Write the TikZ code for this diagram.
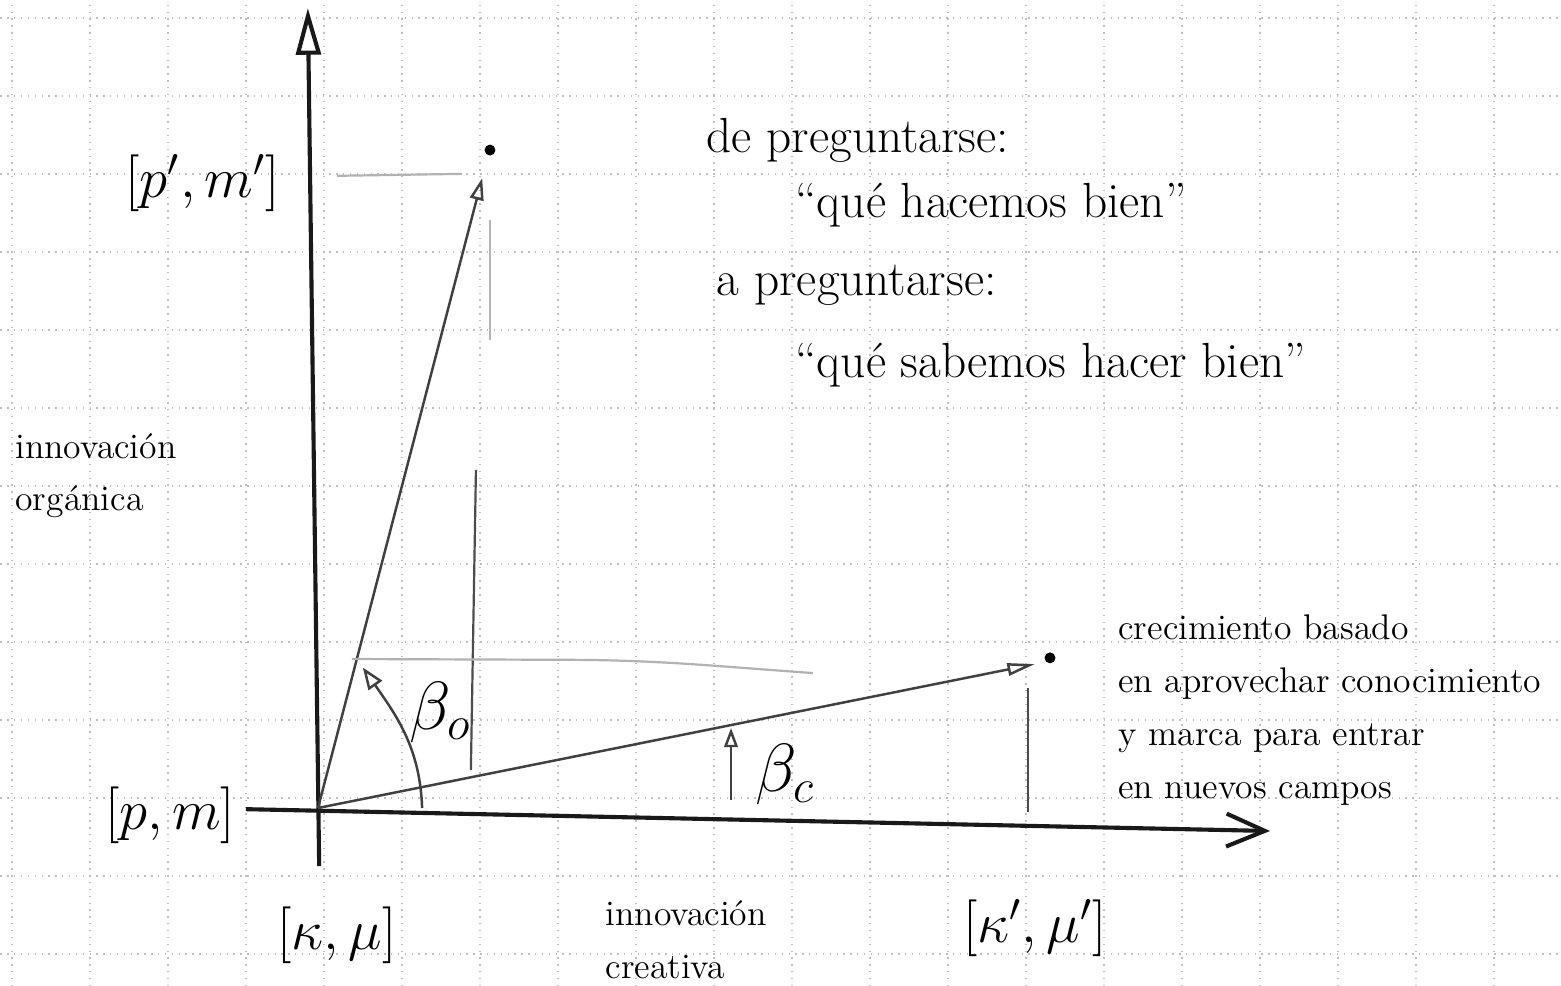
\documentclass[tikz,border=0pt]{standalone}
\usepackage{tikz}
\usetikzlibrary{arrows.meta,positioning}

\begin{document}
\begin{tikzpicture}[x=0.5cm,y=0.5cm,
  axis/.style={line width=1.5pt,black!90},
  vec/.style={line width=0.9pt,black!75},
  faint/.style={line width=0.8pt,black!30},
  guide/.style={line width=0.8pt,black!70},
  dotpt/.style={circle,fill=black,inner sep=0pt,minimum size=4pt},
  note/.style={font=\fontsize{18}{22}\selectfont,anchor=west,inner sep=0pt},
  side/.style={font=\fontsize{13}{19.3}\selectfont,align=left,anchor=west,inner sep=0pt},
  lbl/.style={font=\fontsize{21}{25}\selectfont,inner sep=0pt},
  ang/.style={font=\fontsize{24}{28}\selectfont,inner sep=0pt}]

\useasboundingbox (-8.154,-4.564) rectangle (31.872,20.718);
\clip (-8.154,-4.564) rectangle (31.872,20.718);
\fill[white] (-8.154,-4.564) rectangle (31.872,20.718);
% grid paper
\draw[black!25,dotted,line width=0.5pt,shift={(0.154,0.256)}] (-9,-5) grid (32,21);

% axes
\coordinate (O) at (0,0);
\coordinate (ytop) at (-0.26,20.51);
\coordinate (ybot) at (0.03,-1.49);
\coordinate (xleft) at (-1.85,-0.03);
\coordinate (xtip) at (24.41,-0.59);
\draw[axis,-{Triangle[open,length=17pt,width=9pt]}] (ybot) -- (ytop);
\draw[axis,-{Straight Barb[length=14pt,width=12pt]}] (xleft) -- (xtip);

% points and vectors
\node[dotpt] (j) at (4.41,16.87) {};
\node[dotpt] (c) at (18.77,3.85) {};
\coordinate (jtip) at (4.21,16.15);
\coordinate (ctip) at (18.38,3.69);
\draw[vec,-{Triangle[open,length=8pt,width=5pt]}] (O) -- (jtip);
\draw[vec,-{Triangle[open,length=10pt,width=4.5pt]}] (O) -- (ctip);

% guide lines
\draw[faint] (0.49,16.21) -- (3.69,16.26);
\draw[faint] (4.41,15.08) -- (4.41,12.0);
\draw[guide] (4.05,8.67) -- (3.92,0.97);
\draw[faint] (0.87,3.82) -- (6.21,3.8) to[out=0,in=176] (12.69,3.46);
\draw[guide] (18.21,3.08) -- (18.21,-0.1);

% angles
\coordinate (bo0) at (2.67,0);
\coordinate (bo1) at (1.15,3.6);
\draw[vec,-{Triangle[open,length=8pt,width=6pt]}] (bo0) to[out=92,in=-55] (bo1);
\coordinate (bc0) at (10.59,0.21);
\coordinate (bc1) at (10.59,2.05);
\draw[vec,-{Triangle[open,length=7pt,width=5pt]}] (bc0) -- (bc1);
\node[ang] (bo) at (3.13,2.46) {$\beta_o$};
\node[ang] (bc) at (11.97,0.85) {$\beta_c$};

% coordinates labels
\node[lbl] (pm1) at (-2.95,16.03) {$\bigl[p',m'\bigr]$};
\node[lbl] (pm)  at (-3.79,-0.18) {$\bigl[p,m\bigr]$};
\node[lbl] (km)  at (0.49,-3.26)  {$\bigl[\kappa,\mu\bigr]$};
\node[lbl] (km1) at (18.38,-3.08) {$\bigl[\kappa',\mu'\bigr]$};

% texts
\node[side] (org)  at (-7.77,8.52) {innovación\\orgánica};
\node[side] (cre)  at (7.36,-3.38) {innovación\\creativa};
\node[side] (crec) at (20.51,2.51) {crecimiento basado\\en aprovechar conocimiento\\y marca para entrar\\en nuevos campos};

\node[note] (q1) at (9.95,17.13)  {de preguntarse:};
\node[note] (q2) at (12.23,15.46) {“qué hacemos bien”};
\node[note] (q3) at (10.21,13.41) {a preguntarse:};
\node[note] (q4) at (12.23,11.36) {“qué sabemos hacer bien”};
\end{tikzpicture}
\end{document}
